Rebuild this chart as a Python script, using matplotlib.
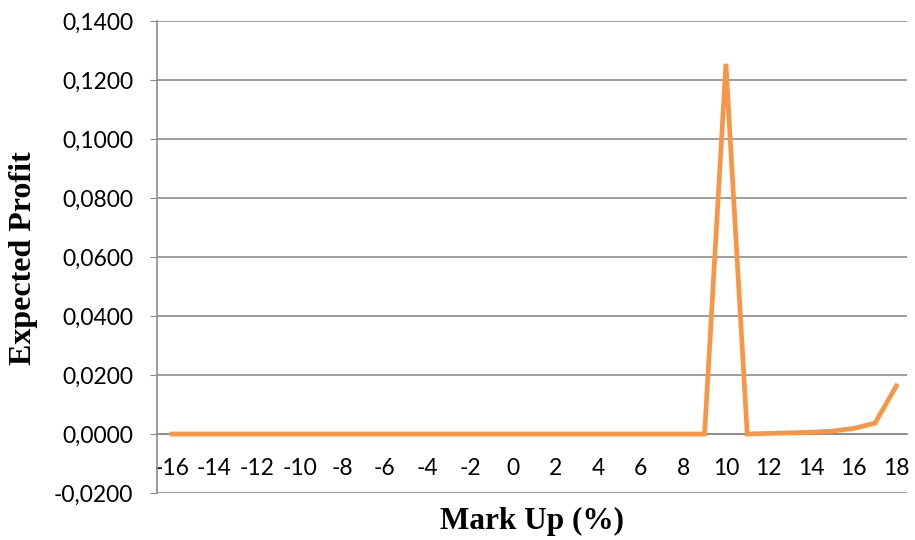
import matplotlib
matplotlib.use("Agg")
import matplotlib.pyplot as plt
from matplotlib.ticker import FuncFormatter, FixedLocator

markup = list(range(-16, 19))
profit = [0.0] * 26 + [0.1255, 0.0, 0.0002, 0.0004, 0.0006, 0.0010, 0.0019, 0.0037, 0.0163]
yticks = [-0.02, 0.0, 0.02, 0.04, 0.06, 0.08, 0.10, 0.12, 0.14]
xtick_vals = list(range(-16, 19, 2))

fig = plt.figure(figsize=(9.15, 5.4), dpi=100)
ax = fig.add_axes([157/915, 1 - 493/540, (907-157)/915, (493-21)/540])

ax.plot(markup, profit, color="#F79646", linewidth=3.4, solid_joinstyle="miter", zorder=3)

ax.set_xlim(-16.7, 18.5)
ax.set_ylim(-0.02, 0.14)
ax.yaxis.set_major_locator(FixedLocator(yticks))
ax.yaxis.set_major_formatter(FuncFormatter(lambda v, p: f"{v:.4f}".replace(".", ",")))
ax.grid(axis="y", color="#8c8c8c", linewidth=1.2, zorder=1)
ax.set_axisbelow(True)

for s in ["top", "right"]:
    ax.spines[s].set_visible(False)
ax.spines["left"].set_color("#8c8c8c")
ax.spines["left"].set_linewidth(1.2)
ax.spines["bottom"].set_position(("data", 0))
ax.spines["bottom"].set_color("#8c8c8c")
ax.spines["bottom"].set_linewidth(1.2)

ax.set_xticks(xtick_vals)
ax.set_xticklabels([str(v) for v in xtick_vals])
ax.tick_params(axis="x", length=0, pad=17, labelsize=16.5)
ax.tick_params(axis="y", length=5, color="#8c8c8c", pad=12, labelsize=16.5)
for lab in ax.get_xticklabels() + ax.get_yticklabels():
    lab.set_family(["Lato", "DejaVu Sans"])

fig.text(532/915, 1 - 521/540, "Mark Up (%)", ha="center", va="center",
         family="Liberation Serif", fontweight="bold", fontsize=22.5)
fig.text(24/915, 1 - 258/540, "Expected Profit", ha="center", va="center", rotation=90,
         family="Liberation Serif", fontweight="bold", fontsize=23)

fig.savefig("out.png", dpi=100)
